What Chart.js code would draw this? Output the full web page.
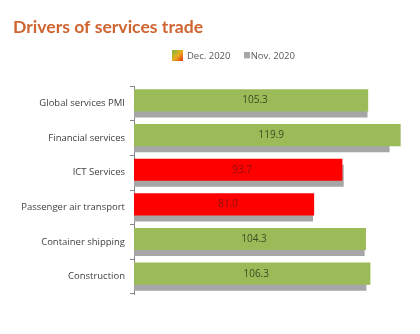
<!DOCTYPE html>
<html>
<head>
<meta charset="utf-8">
<script src="https://cdn.jsdelivr.net/npm/chart.js@4/dist/chart.umd.min.js"></script>
<style>
  html, body { margin: 0; padding: 0; background: #fff; }
  #wrap { width: 420px; height: 334px; }
</style>
</head>
<body>
<div id="wrap"><canvas id="chart" width="420" height="334"></canvas></div>
<script>
const categories = ['Global services PMI', 'Financial services', 'ICT Services', 'Passenger air transport', 'Container shipping', 'Construction'];
const dec2020 = [105.3, 119.9, 93.7, 81.0, 104.3, 106.3];
const nov2020 = [105.0, 114.9, 94.3, 80.5, 103.7, 104.5];
const seriesNames = ['Dec. 2020', 'Nov. 2020'];

const GREEN = '#9bbb59';
const RED = '#ff0000';
const GREY = '#a6a6a6';

// below 100 = contraction -> red
const decColors = dec2020.map((v) => (v < 100 ? RED : GREEN));

// legend icon for Dec: green-to-red gradient square (11px)
function gradientIcon() {
    const c = document.createElement('canvas');
    c.width = 11; c.height = 11;
    const g = c.getContext('2d');
    const grad = g.createLinearGradient(0, 0, 11, 11);
    grad.addColorStop(0, '#7cb342');
    grad.addColorStop(0.5, '#e8b020');
    grad.addColorStop(1, '#e53010');
    g.fillStyle = grad;
    g.fillRect(0, 0, 11, 11);
    return c;
}
// grey icon sits right next to its text, so draw it on the right of a wide canvas
function greyIcon() {
    const c = document.createElement('canvas');
    c.width = 18; c.height = 7;
    const g = c.getContext('2d');
    g.fillStyle = GREY;
    g.fillRect(12, 0, 6, 6);
    return c;
}

// value labels centered in the Dec bars
const valueLabels = {
    id: 'valueLabels',
    afterDatasetsDraw(chart) {
        const { ctx } = chart;
        const meta = chart.getDatasetMeta(0);
        ctx.save();
        ctx.font = '10px "Open Sans"';
        ctx.textAlign = 'center';
        ctx.textBaseline = 'middle';
        meta.data.forEach((bar, i) => {
            ctx.fillStyle = dec2020[i] < 100 ? '#8a1010' : '#3d4a22';
            ctx.fillText(dec2020[i].toFixed(1), (bar.x + bar.base) / 2 + 4, bar.y);
        });
        ctx.restore();
    },
};

// move the legend right and up, like in the original slide
const shiftLegend = {
    id: 'shiftLegend',
    afterUpdate(chart) {
        const lg = chart.legend;
        const dx = 233.6 - (lg.left + lg.right) / 2;
        lg.left += dx;
        lg.right += dx;
        lg.top -= 15.5;
        lg.bottom -= 15.5;
    },
};

const icons = [gradientIcon(), greyIcon()];

new Chart(document.getElementById('chart'), {
    type: 'bar',
    data: {
        labels: categories,
        datasets: [
            {
                label: seriesNames[0],
                data: dec2020,
                backgroundColor: decColors,
                categoryPercentage: 0.348,
                barPercentage: 3.67,
            },
            {
                label: seriesNames[1],
                data: nov2020,
                backgroundColor: GREY,
                categoryPercentage: 0.348,
                barPercentage: 3.67,
            },
        ],
    },
    options: {
        indexAxis: 'y',
        responsive: false,
        animation: false,
        layout: { padding: { left: 13, right: 8, top: 4, bottom: 40 } },
        plugins: {
            title: {
                display: true,
                text: 'Drivers of services trade',
                align: 'start',
                color: '#cf6431',
                font: { family: 'Lato', size: 17.6, weight: 'bold' },
                padding: { top: 13, bottom: 23 },
            },
            legend: {
                position: 'top',
                labels: {
                    usePointStyle: true,
                    pointStyleWidth: 10,
                    pointStyle: (ctx) => icons[ctx.datasetIndex],
                    generateLabels: (chart) =>
                        chart.data.datasets.map((ds, i) => ({
                            text: ds.label,
                            pointStyle: icons[i],
                            datasetIndex: i,
                            hidden: false,
                            fontColor: '#595959',
                            lineWidth: 0,
                        })),
                    font: { family: 'Open Sans', size: 9.5 },
                    color: '#595959',
                    boxWidth: 10,
                    boxHeight: 10,
                    padding: 5.5,
                },
            },
            tooltip: { enabled: false },
        },
        scales: {
            x: {
                display: false,
                min: 0,
                max: 125,
            },
            y: {
                afterFit: (scale) => { scale.width = 121; },
                border: { color: '#868686', width: 1 },
                grid: {
                    drawOnChartArea: false,
                    drawTicks: true,
                    tickLength: 4,
                    color: '#868686',
                },
                ticks: {
                    color: '#404040',
                    font: { family: 'Open Sans', size: 9.5 },
                    padding: 5,
                },
            },
        },
    },
    plugins: [valueLabels, shiftLegend],
});
</script>
</body>
</html>
